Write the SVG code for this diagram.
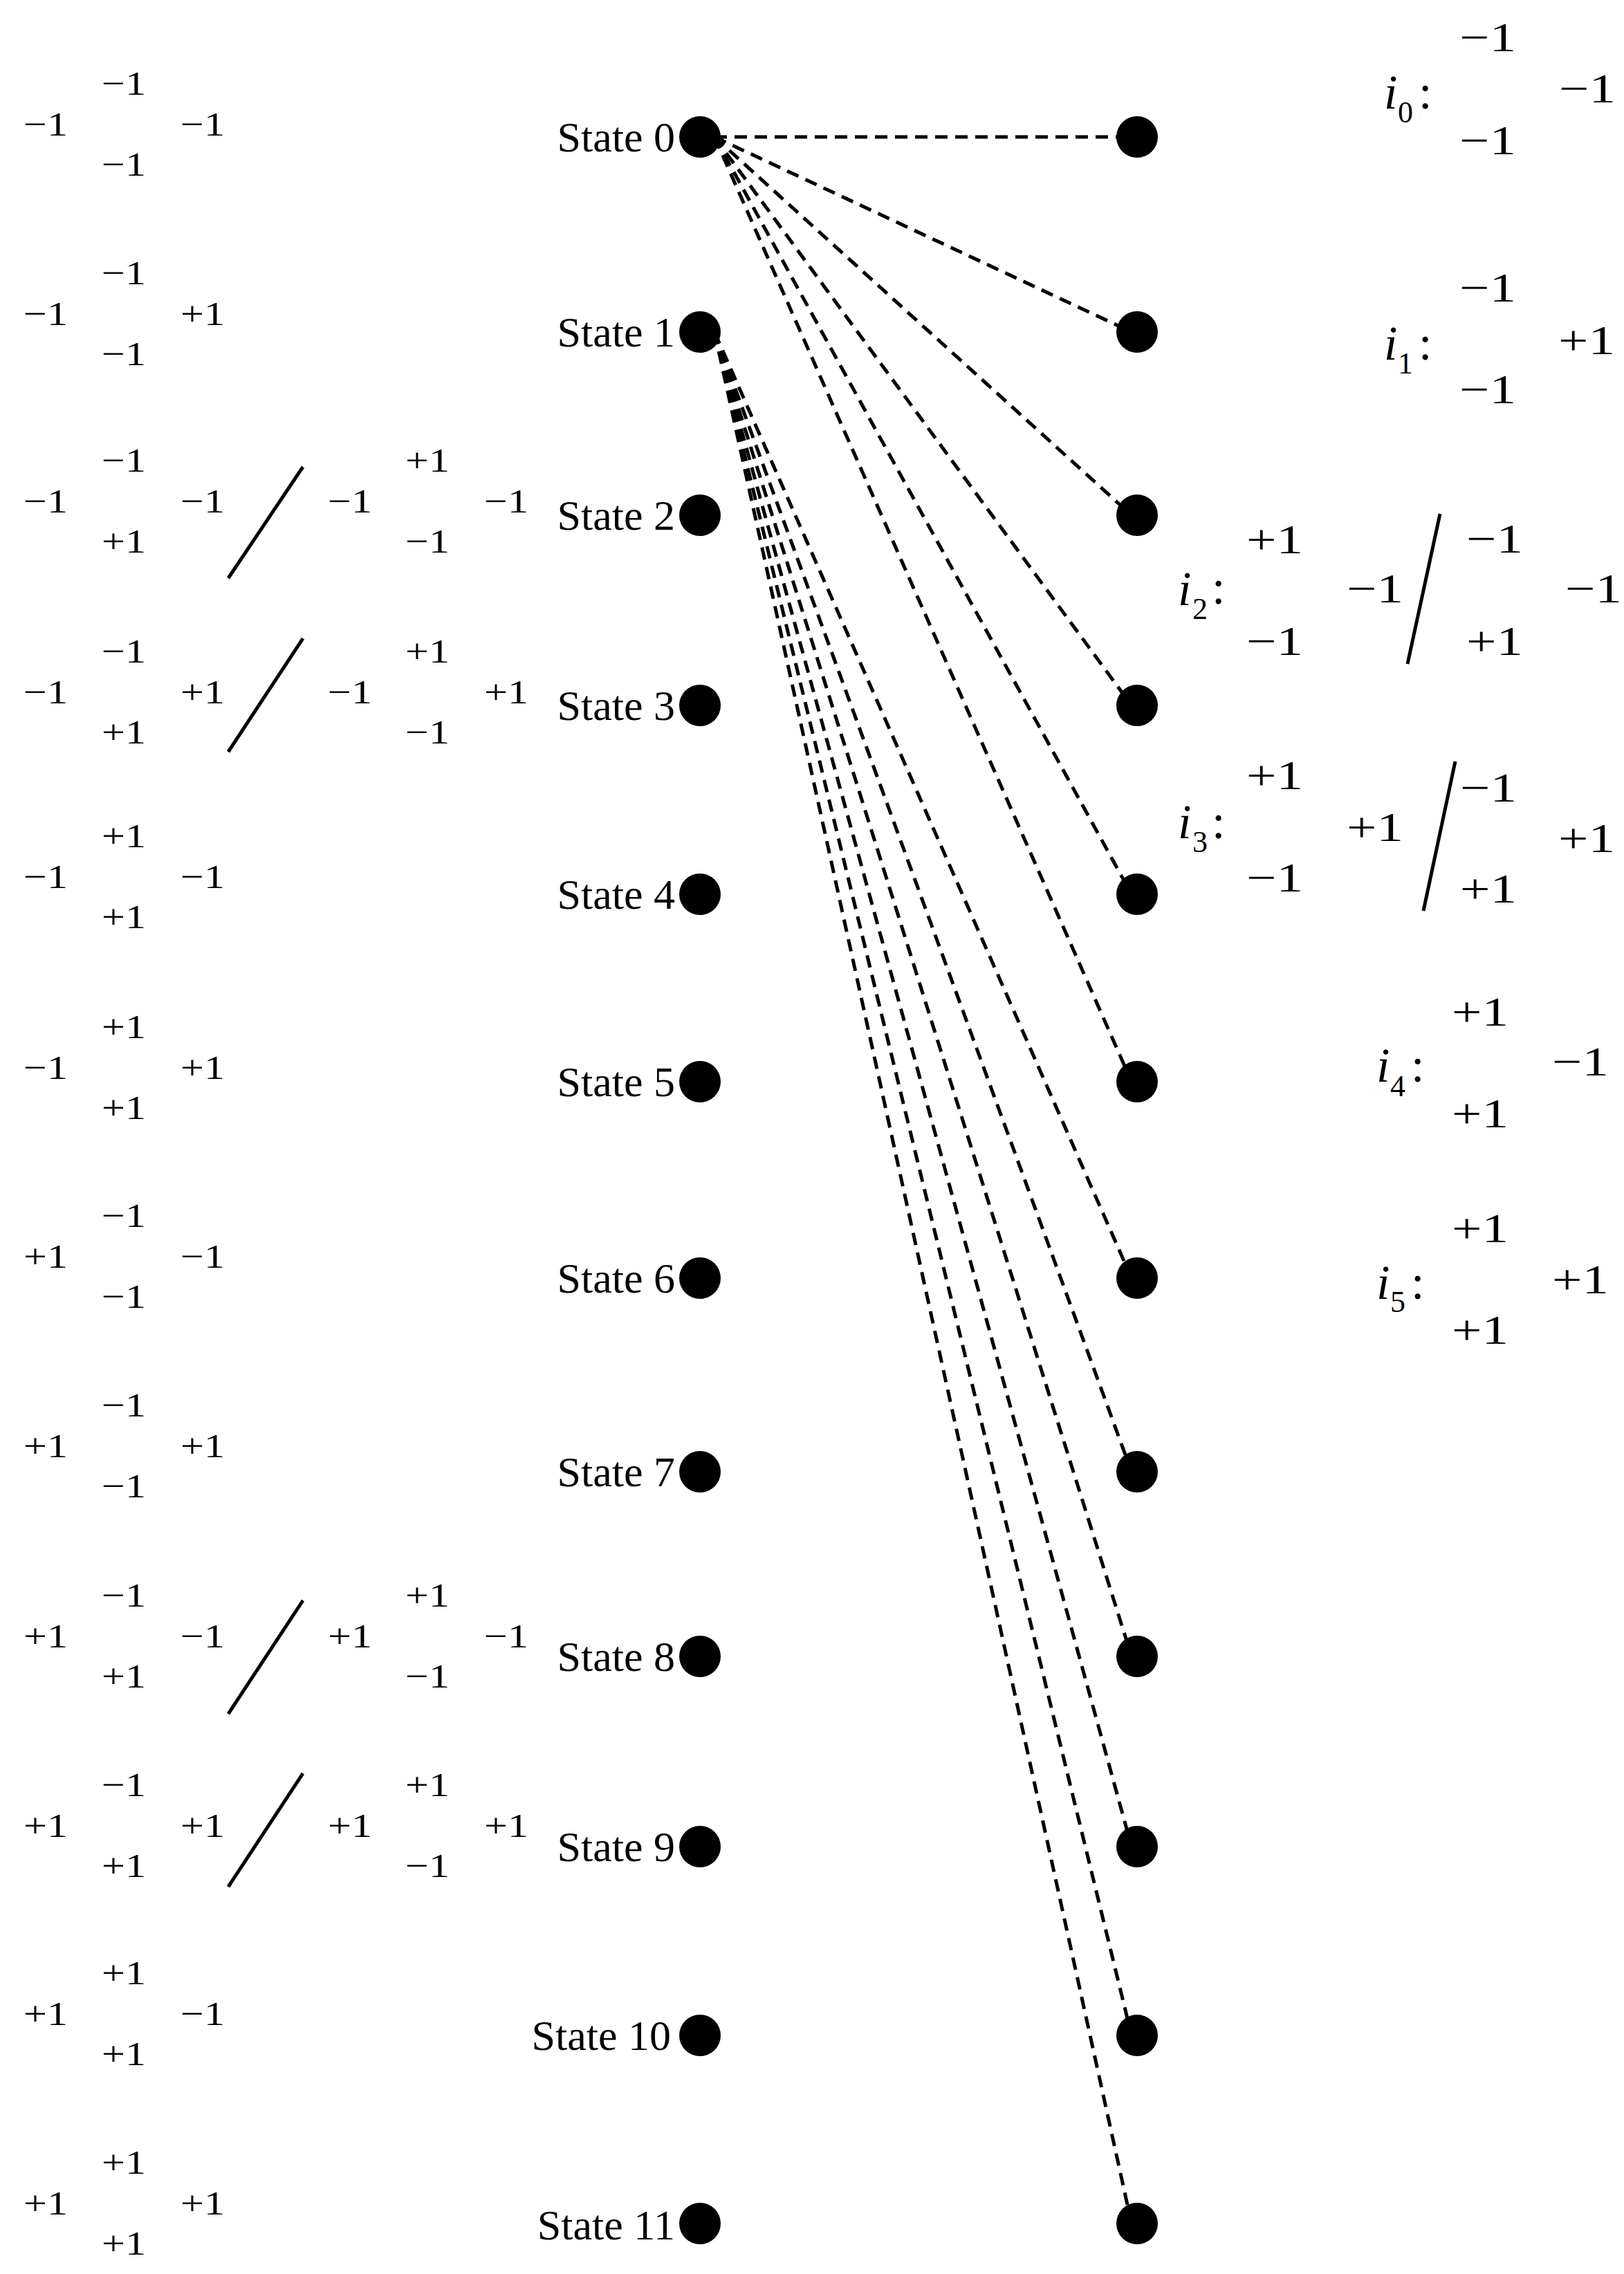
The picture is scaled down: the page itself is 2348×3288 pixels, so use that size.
<svg xmlns="http://www.w3.org/2000/svg" width="2348" height="3288" viewBox="0 0 2348 3288">
<style>
text{font-family:"Liberation Serif","Times New Roman",serif;fill:#000}
.n{font-size:49px}
.m{font-size:60px}
.lbl{font-size:62px;text-anchor:end}
.it{font-size:70px;font-style:italic}
.sub{font-size:44px}
.col{font-size:70px}
.dash{stroke:#000;stroke-width:5;stroke-dasharray:18 11;fill:none}
.sl{stroke:#000;stroke-width:5;fill:none}
.dot{fill:#000}
</style>
<rect width="2348" height="3288" fill="#fff"/>

<g id="connectors">
<line class="dash" x1="1033" y1="198" x2="1636" y2="198"/>
<line class="dash" x1="1033" y1="198" x2="1636" y2="480"/>
<line class="dash" x1="1033" y1="198" x2="1636" y2="745"/>
<line class="dash" x1="1033" y1="198" x2="1636" y2="1020"/>
<line class="dash" x1="1033" y1="198" x2="1636" y2="1293"/>
<line class="dash" x1="1033" y1="198" x2="1636" y2="1564"/>
<line class="dash" x1="1033" y1="480" x2="1636" y2="1848"/>
<line class="dash" x1="1033" y1="480" x2="1636" y2="2128"/>
<line class="dash" x1="1033" y1="480" x2="1636" y2="2395"/>
<line class="dash" x1="1033" y1="480" x2="1636" y2="2670"/>
<line class="dash" x1="1033" y1="480" x2="1636" y2="2943"/>
<line class="dash" x1="1033" y1="480" x2="1636" y2="3215"/>
</g>

<g id="state0"><circle class="dot" cx="1012" cy="198" r="30"/><text class="lbl" x="976" y="219">State 0</text>
<text class="n" x="34" y="196" textLength="64" lengthAdjust="spacingAndGlyphs">−1</text><text class="n" x="147" y="137" textLength="64" lengthAdjust="spacingAndGlyphs">−1</text><text class="n" x="261" y="196" textLength="64" lengthAdjust="spacingAndGlyphs">−1</text><text class="n" x="147" y="254" textLength="64" lengthAdjust="spacingAndGlyphs">−1</text></g>

<g id="state1"><circle class="dot" cx="1012" cy="480" r="30"/><text class="lbl" x="976" y="501">State 1</text>
<text class="n" x="34" y="470" textLength="64" lengthAdjust="spacingAndGlyphs">−1</text><text class="n" x="147" y="411" textLength="64" lengthAdjust="spacingAndGlyphs">−1</text><text class="n" x="261" y="470" textLength="64" lengthAdjust="spacingAndGlyphs">+1</text><text class="n" x="147" y="528" textLength="64" lengthAdjust="spacingAndGlyphs">−1</text></g>

<g id="state2"><circle class="dot" cx="1012" cy="745" r="30"/><text class="lbl" x="976" y="766">State 2</text>
<text class="n" x="34" y="741" textLength="64" lengthAdjust="spacingAndGlyphs">−1</text><text class="n" x="147" y="682" textLength="64" lengthAdjust="spacingAndGlyphs">−1</text><text class="n" x="261" y="741" textLength="64" lengthAdjust="spacingAndGlyphs">−1</text><text class="n" x="147" y="799" textLength="64" lengthAdjust="spacingAndGlyphs">+1</text>
<line class="sl" x1="438" y1="675" x2="330" y2="836"/>
<text class="n" x="474" y="741" textLength="64" lengthAdjust="spacingAndGlyphs">−1</text><text class="n" x="586" y="682" textLength="64" lengthAdjust="spacingAndGlyphs">+1</text><text class="n" x="700" y="741" textLength="64" lengthAdjust="spacingAndGlyphs">−1</text><text class="n" x="586" y="799" textLength="64" lengthAdjust="spacingAndGlyphs">−1</text></g>

<g id="state3"><circle class="dot" cx="1012" cy="1020" r="30"/><text class="lbl" x="976" y="1041">State 3</text>
<text class="n" x="34" y="1017" textLength="64" lengthAdjust="spacingAndGlyphs">−1</text><text class="n" x="147" y="958" textLength="64" lengthAdjust="spacingAndGlyphs">−1</text><text class="n" x="261" y="1017" textLength="64" lengthAdjust="spacingAndGlyphs">+1</text><text class="n" x="147" y="1075" textLength="64" lengthAdjust="spacingAndGlyphs">+1</text>
<line class="sl" x1="438" y1="923" x2="330" y2="1087"/>
<text class="n" x="474" y="1017" textLength="64" lengthAdjust="spacingAndGlyphs">−1</text><text class="n" x="586" y="958" textLength="64" lengthAdjust="spacingAndGlyphs">+1</text><text class="n" x="700" y="1017" textLength="64" lengthAdjust="spacingAndGlyphs">+1</text><text class="n" x="586" y="1075" textLength="64" lengthAdjust="spacingAndGlyphs">−1</text></g>

<g id="state4"><circle class="dot" cx="1012" cy="1293" r="30"/><text class="lbl" x="976" y="1314">State 4</text>
<text class="n" x="34" y="1284" textLength="64" lengthAdjust="spacingAndGlyphs">−1</text><text class="n" x="147" y="1225" textLength="64" lengthAdjust="spacingAndGlyphs">+1</text><text class="n" x="261" y="1284" textLength="64" lengthAdjust="spacingAndGlyphs">−1</text><text class="n" x="147" y="1342" textLength="64" lengthAdjust="spacingAndGlyphs">+1</text></g>

<g id="state5"><circle class="dot" cx="1012" cy="1564" r="30"/><text class="lbl" x="976" y="1585">State 5</text>
<text class="n" x="34" y="1560" textLength="64" lengthAdjust="spacingAndGlyphs">−1</text><text class="n" x="147" y="1501" textLength="64" lengthAdjust="spacingAndGlyphs">+1</text><text class="n" x="261" y="1560" textLength="64" lengthAdjust="spacingAndGlyphs">+1</text><text class="n" x="147" y="1618" textLength="64" lengthAdjust="spacingAndGlyphs">+1</text></g>

<g id="state6"><circle class="dot" cx="1012" cy="1848" r="30"/><text class="lbl" x="976" y="1869">State 6</text>
<text class="n" x="34" y="1833" textLength="64" lengthAdjust="spacingAndGlyphs">+1</text><text class="n" x="147" y="1774" textLength="64" lengthAdjust="spacingAndGlyphs">−1</text><text class="n" x="261" y="1833" textLength="64" lengthAdjust="spacingAndGlyphs">−1</text><text class="n" x="147" y="1891" textLength="64" lengthAdjust="spacingAndGlyphs">−1</text></g>

<g id="state7"><circle class="dot" cx="1012" cy="2128" r="30"/><text class="lbl" x="976" y="2149">State 7</text>
<text class="n" x="34" y="2107" textLength="64" lengthAdjust="spacingAndGlyphs">+1</text><text class="n" x="147" y="2048" textLength="64" lengthAdjust="spacingAndGlyphs">−1</text><text class="n" x="261" y="2107" textLength="64" lengthAdjust="spacingAndGlyphs">+1</text><text class="n" x="147" y="2165" textLength="64" lengthAdjust="spacingAndGlyphs">−1</text></g>

<g id="state8"><circle class="dot" cx="1012" cy="2395" r="30"/><text class="lbl" x="976" y="2416">State 8</text>
<text class="n" x="34" y="2382" textLength="64" lengthAdjust="spacingAndGlyphs">+1</text><text class="n" x="147" y="2323" textLength="64" lengthAdjust="spacingAndGlyphs">−1</text><text class="n" x="261" y="2382" textLength="64" lengthAdjust="spacingAndGlyphs">−1</text><text class="n" x="147" y="2440" textLength="64" lengthAdjust="spacingAndGlyphs">+1</text>
<line class="sl" x1="438" y1="2314" x2="330" y2="2478"/>
<text class="n" x="474" y="2382" textLength="64" lengthAdjust="spacingAndGlyphs">+1</text><text class="n" x="586" y="2323" textLength="64" lengthAdjust="spacingAndGlyphs">+1</text><text class="n" x="700" y="2382" textLength="64" lengthAdjust="spacingAndGlyphs">−1</text><text class="n" x="586" y="2440" textLength="64" lengthAdjust="spacingAndGlyphs">−1</text></g>

<g id="state9"><circle class="dot" cx="1012" cy="2670" r="30"/><text class="lbl" x="976" y="2691">State 9</text>
<text class="n" x="34" y="2656" textLength="64" lengthAdjust="spacingAndGlyphs">+1</text><text class="n" x="147" y="2597" textLength="64" lengthAdjust="spacingAndGlyphs">−1</text><text class="n" x="261" y="2656" textLength="64" lengthAdjust="spacingAndGlyphs">+1</text><text class="n" x="147" y="2714" textLength="64" lengthAdjust="spacingAndGlyphs">+1</text>
<line class="sl" x1="438" y1="2564" x2="330" y2="2728"/>
<text class="n" x="474" y="2656" textLength="64" lengthAdjust="spacingAndGlyphs">+1</text><text class="n" x="586" y="2597" textLength="64" lengthAdjust="spacingAndGlyphs">+1</text><text class="n" x="700" y="2656" textLength="64" lengthAdjust="spacingAndGlyphs">+1</text><text class="n" x="586" y="2714" textLength="64" lengthAdjust="spacingAndGlyphs">−1</text></g>

<g id="state10"><circle class="dot" cx="1012" cy="2943" r="30"/><text class="lbl" x="970" y="2964">State 10</text>
<text class="n" x="34" y="2928" textLength="64" lengthAdjust="spacingAndGlyphs">+1</text><text class="n" x="147" y="2869" textLength="64" lengthAdjust="spacingAndGlyphs">+1</text><text class="n" x="261" y="2928" textLength="64" lengthAdjust="spacingAndGlyphs">−1</text><text class="n" x="147" y="2986" textLength="64" lengthAdjust="spacingAndGlyphs">+1</text></g>

<g id="state11"><circle class="dot" cx="1012" cy="3215" r="30"/><text class="lbl" x="976" y="3238">State 11</text>
<text class="n" x="34" y="3202" textLength="64" lengthAdjust="spacingAndGlyphs">+1</text><text class="n" x="147" y="3143" textLength="64" lengthAdjust="spacingAndGlyphs">+1</text><text class="n" x="261" y="3202" textLength="64" lengthAdjust="spacingAndGlyphs">+1</text><text class="n" x="147" y="3260" textLength="64" lengthAdjust="spacingAndGlyphs">+1</text></g>

<g id="next0"><circle class="dot" cx="1644" cy="198" r="30"/></g>
<g id="next1"><circle class="dot" cx="1644" cy="480" r="30"/></g>
<g id="next2"><circle class="dot" cx="1644" cy="745" r="30"/></g>
<g id="next3"><circle class="dot" cx="1644" cy="1020" r="30"/></g>
<g id="next4"><circle class="dot" cx="1644" cy="1293" r="30"/></g>
<g id="next5"><circle class="dot" cx="1644" cy="1564" r="30"/></g>
<g id="next6"><circle class="dot" cx="1644" cy="1848" r="30"/></g>
<g id="next7"><circle class="dot" cx="1644" cy="2128" r="30"/></g>
<g id="next8"><circle class="dot" cx="1644" cy="2395" r="30"/></g>
<g id="next9"><circle class="dot" cx="1644" cy="2670" r="30"/></g>
<g id="next10"><circle class="dot" cx="1644" cy="2943" r="30"/></g>
<g id="next11"><circle class="dot" cx="1644" cy="3215" r="30"/></g>

<g id="input0"><text class="it" x="2001" y="157">i</text><text class="sub" x="2021" y="177">0</text><text class="col" x="2051" y="157">:</text>
<text class="m" x="2110" y="74" textLength="82" lengthAdjust="spacingAndGlyphs">−1</text><text class="m" x="2254" y="148" textLength="82" lengthAdjust="spacingAndGlyphs">−1</text><text class="m" x="2110" y="223" textLength="82" lengthAdjust="spacingAndGlyphs">−1</text></g>

<g id="input1"><text class="it" x="2001" y="520">i</text><text class="sub" x="2021" y="540">1</text><text class="col" x="2051" y="520">:</text>
<text class="m" x="2110" y="436" textLength="82" lengthAdjust="spacingAndGlyphs">−1</text><text class="m" x="2253" y="512" textLength="82" lengthAdjust="spacingAndGlyphs">+1</text><text class="m" x="2110" y="583" textLength="82" lengthAdjust="spacingAndGlyphs">−1</text></g>

<g id="input2"><text class="it" x="1703" y="875">i</text><text class="sub" x="1724" y="895">2</text><text class="col" x="1752" y="873">:</text>
<text class="m" x="1802" y="800" textLength="82" lengthAdjust="spacingAndGlyphs">+1</text><text class="m" x="1802" y="947" textLength="82" lengthAdjust="spacingAndGlyphs">−1</text><text class="m" x="1947" y="871" textLength="82" lengthAdjust="spacingAndGlyphs">−1</text>
<line class="sl" x1="2082" y1="743" x2="2035" y2="960"/>
<text class="m" x="2120" y="799" textLength="82" lengthAdjust="spacingAndGlyphs">−1</text><text class="m" x="2120" y="947" textLength="82" lengthAdjust="spacingAndGlyphs">+1</text><text class="m" x="2263" y="871" textLength="82" lengthAdjust="spacingAndGlyphs">−1</text></g>

<g id="input3"><text class="it" x="1703" y="1212">i</text><text class="sub" x="1724" y="1232">3</text><text class="col" x="1752" y="1212">:</text>
<text class="m" x="1802" y="1141" textLength="82" lengthAdjust="spacingAndGlyphs">+1</text><text class="m" x="1802" y="1289" textLength="82" lengthAdjust="spacingAndGlyphs">−1</text><text class="m" x="1947" y="1216" textLength="82" lengthAdjust="spacingAndGlyphs">+1</text>
<line class="sl" x1="2104" y1="1101" x2="2058" y2="1317"/>
<text class="m" x="2111" y="1159" textLength="82" lengthAdjust="spacingAndGlyphs">−1</text><text class="m" x="2111" y="1305" textLength="82" lengthAdjust="spacingAndGlyphs">+1</text><text class="m" x="2253" y="1232" textLength="82" lengthAdjust="spacingAndGlyphs">+1</text></g>

<g id="input4"><text class="it" x="1990" y="1564">i</text><text class="sub" x="2010" y="1585">4</text><text class="col" x="2040" y="1564">:</text>
<text class="m" x="2099" y="1483" textLength="82" lengthAdjust="spacingAndGlyphs">+1</text><text class="m" x="2244" y="1555" textLength="82" lengthAdjust="spacingAndGlyphs">−1</text><text class="m" x="2099" y="1630" textLength="82" lengthAdjust="spacingAndGlyphs">+1</text></g>

<g id="input5"><text class="it" x="1990" y="1878">i</text><text class="sub" x="2010" y="1897">5</text><text class="col" x="2040" y="1878">:</text>
<text class="m" x="2099" y="1796" textLength="82" lengthAdjust="spacingAndGlyphs">+1</text><text class="m" x="2244" y="1870" textLength="82" lengthAdjust="spacingAndGlyphs">+1</text><text class="m" x="2099" y="1943" textLength="82" lengthAdjust="spacingAndGlyphs">+1</text></g>
</svg>
